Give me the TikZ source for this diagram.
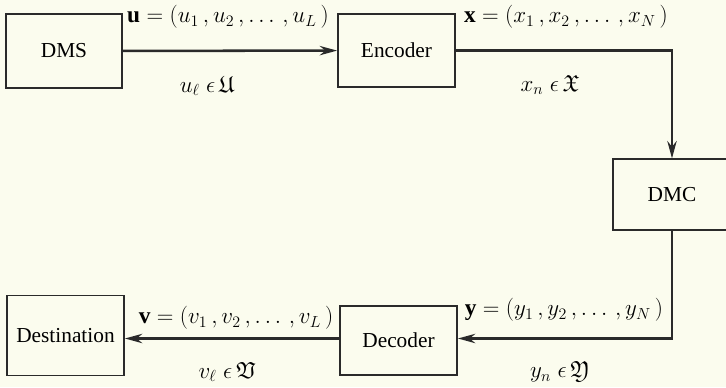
\documentclass[tikz,border=0pt]{standalone}
\usepackage{amssymb}
\usepackage{fontspec}
\setmainfont{Liberation Serif}
\newfontfamily\boxfont{Liberation Serif}
\usetikzlibrary{positioning,arrows.meta,calc}
\definecolor{paperbg}{HTML}{FBFCEE}
\definecolor{inkline}{HTML}{2A2A2A}
\tikzset{
  blockbox/.style={draw=inkline, line width=1.1pt, inner sep=0pt, font=\boxfont\fontsize{16}{19}\selectfont},
  flowline/.style={draw=inkline, line width=1.9pt, -{Stealth[length=13pt,width=7pt]}},
  sigtext/.style={inner sep=0pt, font=\boxfont\fontsize{17.5}{20}\selectfont}
}

\begin{document}
\begin{tikzpicture}[x=0.75pt,y=-0.75pt]
\useasboundingbox[fill=paperbg] (0,0) rectangle (726,387);
\node[blockbox, minimum width=87pt, minimum height=55.5pt] (dms) at (64,51) {DMS};
\node[blockbox, minimum width=88pt, minimum height=55pt] (enc) at (396.5,50.5) {Encoder};
\node[blockbox, minimum width=88.5pt, minimum height=53pt] (dmc) at (672,194.5) {DMC};
\node[blockbox, minimum width=88pt, minimum height=52pt] (dec) at (398.5,340.5) {Decoder};
\node[blockbox, minimum width=88pt, minimum height=60pt] (dest) at (65.5,335.5) {Destination};
\draw[flowline] (dms) -- (enc);
\draw[flowline] (enc.east) -| (dmc.north);
\draw[flowline] (dmc.south) |- ($(dec.east)+(0,-2)$);
\draw[flowline] ($(dec.west)+(0,-2)$) -- ($(dec.west -| dest.east)+(0,-2)$);
\node[sigtext] (ulab) at (228,17) {$\mathbf{u} = (u_1\,, u_2\,, \ldots\,, u_L\,)$};
\node[sigtext] (uset) at (207,86) {$u_\ell \;\epsilon\, \mathfrak{U}$};
\node[sigtext] (xlab) at (566,17) {$\mathbf{x} = (x_1\,, x_2\,, \ldots\,, x_N\,)$};
\node[sigtext] (xset) at (550,85) {$x_n \;\epsilon\, \mathfrak{X}$};
\node[sigtext] (ylab) at (564,310) {$\mathbf{y} = (y_1\,, y_2\,, \ldots\,, y_N\,)$};
\node[sigtext] (yset) at (560,372) {$y_n \;\epsilon\, \mathfrak{Y}$};
\node[sigtext] (vlab) at (236,318) {$\mathbf{v} = (v_1\,, v_2\,, \ldots\,, v_L\,)$};
\node[sigtext] (vset) at (227,372) {$v_\ell \;\epsilon\, \mathfrak{V}$};
\end{tikzpicture}
\end{document}
